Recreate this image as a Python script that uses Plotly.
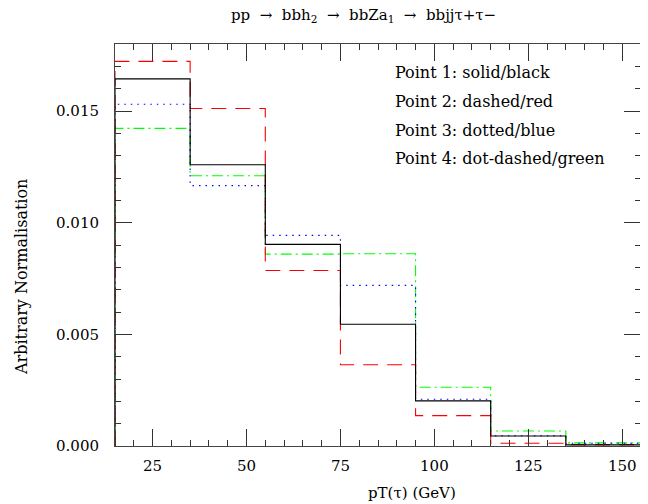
import plotly.graph_objects as go

bin_edges = [15, 35, 55, 75, 95, 115, 135, 155]
point1_black = [0.01644, 0.01259, 0.00903, 0.00545, 0.00202, 0.00045, 0.00005]
point2_red = [0.01722, 0.01511, 0.00786, 0.00364, 0.00136, 0.00012, 0.00006]
point3_blue = [0.01530, 0.01166, 0.00943, 0.00719, 0.00209, 0.00046, 0.00012]
point4_green = [0.01422, 0.01210, 0.00859, 0.00861, 0.00263, 0.00067, 0.00014]

legend_lines = ["Point 1: solid/black", "Point 2: dashed/red",
                "Point 3: dotted/blue", "Point 4: dot-dashed/green"]

FONT = "DejaVu Serif"

def step(vals):
    xs = [bin_edges[0]] + list(bin_edges) + [bin_edges[-1]]
    ys = [0] + list(vals) + [vals[-1], 0]
    return xs, ys

fig = go.Figure()
series = [
    (point4_green, "#00ff00", "11px,4px,2px,4px"),
    (point3_blue, "#0000ff", "1.5px,5px"),
    (point2_red, "#ff0000", "15px,9px"),
    (point1_black, "#000000", "solid"),
]
for vals, col, dash in series:
    xs, ys = step(vals)
    fig.add_trace(go.Scatter(x=xs, y=ys, mode="lines",
                             line=dict(color=col, dash=dash, width=1.1, shape="hv"),
                             showlegend=False, hoverinfo="skip"))

# page body has an 8px margin; compensate so the plot lands where the reference's does
OFF = 8
L, R, T, B = 115 - OFF, 7, 44 - OFF, 58
W, H = 648 - OFF, 504 - OFF
pw, ph = W - L - R, H - T - B

def px(x):
    return (x - 115) / pw

def py(y):
    return 1 - (y - 44) / ph

for i, t in enumerate(legend_lines):
    fig.add_annotation(x=px(393), y=py(73 + i * 28.5), xref="paper", yref="paper", text=t,
                       showarrow=False, xanchor="left", yanchor="middle",
                       font=dict(family=FONT, size=16, color="black"))

axis_common = dict(showline=True, linecolor="#444444", linewidth=1, mirror="allticks",
                   ticks="inside", tickcolor="#333333", ticklen=17, tickwidth=1,
                   showgrid=False, zeroline=False,
                   tickfont=dict(family=FONT, size=15, color="black"))

fig.update_layout(
    width=W, height=H,
    margin=dict(l=L, r=R, t=T, b=B),
    paper_bgcolor="white", plot_bgcolor="white",
    xaxis=dict(range=[15, 155], tickvals=[25, 50, 75, 100, 125, 150],
               ticklabelstandoff=6,
               minor=dict(dtick=5, tick0=0, ticks="inside", ticklen=6, tickcolor="#333333"),
               **axis_common),
    yaxis=dict(range=[0, 0.018], tickvals=[0, 0.005, 0.010, 0.015], tickformat=".3f",
               ticklabelstandoff=12,
               minor=dict(dtick=0.001, tick0=0, ticks="inside", ticklen=6, tickcolor="#333333"),
               **axis_common),
)

sp = "\u00a0"
fig.add_annotation(x=px(363), y=py(15), xref="paper", yref="paper",
                   text=f"pp{sp}{sp}→{sp}{sp}bbh<sub>2</sub>{sp}{sp}→{sp}{sp}bbZa<sub>1</sub>{sp}{sp}→{sp}{sp}bbjjτ+τ−",
                   showarrow=False, xanchor="center", yanchor="middle",
                   font=dict(family=FONT, size=15, color="black"))
fig.add_annotation(x=px(412), y=py(493), xref="paper", yref="paper",
                   text="pT(τ)" + sp + "(GeV)", showarrow=False, xanchor="center", yanchor="middle",
                   font=dict(family=FONT, size=15, color="black"))
fig.add_annotation(x=px(21), y=py(277), xref="paper", yref="paper",
                   text="Arbitrary Normalisation", textangle=-90, showarrow=False,
                   xanchor="center", yanchor="middle",
                   font=dict(family=FONT, size=16, color="black"))

fig.write_html("out.html")
